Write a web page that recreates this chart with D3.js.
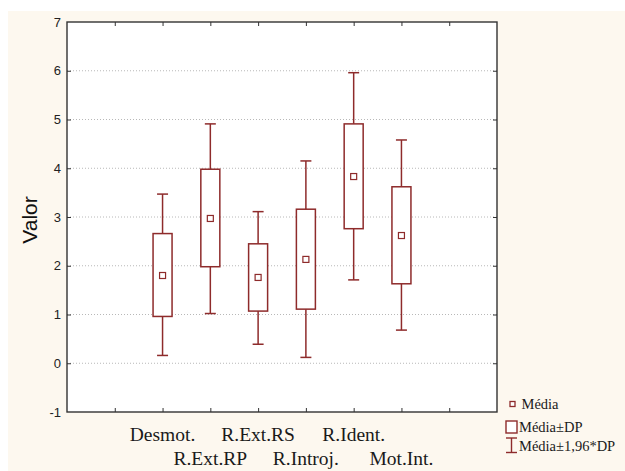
<!DOCTYPE html>
<html>
<head>
<meta charset="utf-8">
<script src="https://cdn.jsdelivr.net/npm/d3@7"></script>
<style>
  body { margin: 0; background: #fff; }
  svg { display: block; }
</style>
</head>
<body>
<div id="plot"></div>
<script>
// categories and values
const categorias = ["Desmot.", "R.Ext.RP", "R.Ext.RS", "R.Introj.", "R.Ident.", "Mot.Int."];
const media   = [1.80, 2.97, 1.76, 2.13, 3.83, 2.62];
const dpSup   = [2.66, 3.98, 2.45, 3.16, 4.91, 3.62];   // Média+DP
const dpInf   = [0.96, 1.98, 1.07, 1.11, 2.76, 1.63];   // Média-DP
const icSup   = [3.47, 4.91, 3.11, 4.15, 5.96, 4.58];   // Média+1,96*DP
const icInf   = [0.16, 1.02, 0.39, 0.12, 1.71, 0.68];   // Média-1,96*DP
const yTicks  = [-1, 0, 1, 2, 3, 4, 5, 6, 7];
const legendItems = ["Média", "Média±DP", "Média±1,96*DP"];

const W = 625, H = 471;
const cor = "#8e2b2b";

const svg = d3.select("#plot").append("svg")
  .attr("width", W)
  .attr("height", H);

// cream background
svg.append("rect")
  .attr("x", 8).attr("y", 11)
  .attr("width", W - 8).attr("height", H - 11)
  .attr("fill", "#fdf8ef");

const plotL = 67, plotR = 497, plotT = 22, plotB = 412;

// x positions: 0..7 are tick slots, categories sit on 1..6
const xScale = d3.scaleLinear().domain([-1, 8]).range([plotL, plotR]);
const yScale = d3.scaleLinear().domain([-1, 7]).range([plotB, plotT]);

// plot area
svg.append("rect")
  .attr("x", plotL).attr("y", plotT)
  .attr("width", plotR - plotL).attr("height", plotB - plotT)
  .attr("fill", "#fff");

// dotted grid
svg.append("g")
  .selectAll("line")
  .data(yTicks.filter(d => d > -1 && d < 7))
  .enter().append("line")
  .attr("x1", plotL).attr("x2", plotR)
  .attr("y1", d => yScale(d)).attr("y2", d => yScale(d))
  .attr("stroke", "#b8b8b8")
  .attr("stroke-width", 1)
  .attr("stroke-dasharray", "1,2");

// axes with inner ticks
const xTicks = d3.range(0, 8);
svg.append("g")
  .attr("transform", "translate(0," + plotB + ")")
  .call(d3.axisTop(xScale).tickValues(xTicks).tickSize(4).tickFormat(""))
  .call(g => g.select(".domain").remove());
svg.append("g")
  .attr("transform", "translate(0," + plotT + ")")
  .call(d3.axisBottom(xScale).tickValues(xTicks).tickSize(4).tickFormat(""))
  .call(g => g.select(".domain").remove());

svg.append("g")
  .attr("transform", "translate(" + plotL + ",0)")
  .call(d3.axisRight(yScale).tickValues(yTicks.slice(1, -1)).tickSize(4).tickFormat(""))
  .call(g => g.select(".domain").remove());
svg.append("g")
  .attr("transform", "translate(" + plotR + ",0)")
  .call(d3.axisLeft(yScale).tickValues(yTicks.slice(1, -1)).tickSize(4).tickFormat(""))
  .call(g => g.select(".domain").remove());

svg.selectAll(".tick line").attr("stroke", "#333");

// y tick labels
svg.append("g")
  .selectAll("text")
  .data(yTicks)
  .enter().append("text")
  .attr("x", 61)
  .attr("y", d => yScale(d))
  .attr("dy", "0.35em")
  .attr("text-anchor", "end")
  .attr("font-family", "Liberation Sans, Arial, sans-serif")
  .attr("font-size", 13)
  .attr("fill", "#222")
  .text(d => d);

// y axis title
svg.append("text")
  .attr("transform", "translate(37,220) rotate(-90)")
  .attr("text-anchor", "middle")
  .attr("font-family", "Liberation Sans, Arial, sans-serif")
  .attr("font-size", 21)
  .attr("fill", "#111")
  .text("Valor");

// frame
svg.append("rect")
  .attr("x", plotL).attr("y", plotT)
  .attr("width", plotR - plotL).attr("height", plotB - plotT)
  .attr("fill", "none")
  .attr("stroke", "#333")
  .attr("stroke-width", 1.4);

// category labels, staggered in two rows
svg.append("g")
  .selectAll("text")
  .data(categorias)
  .enter().append("text")
  .attr("x", (d, i) => xScale(i + 1))
  .attr("y", (d, i) => i % 2 === 0 ? 441 : 465)
  .attr("text-anchor", "middle")
  .attr("font-family", "Liberation Serif, Times New Roman, serif")
  .attr("font-size", 19.5)
  .attr("fill", "#1a1a1a")
  .text(d => d);

// boxes
const boxW = 19, capW = 11;
const g = svg.append("g")
  .attr("stroke", cor)
  .attr("stroke-width", 1.5)
  .attr("fill", "none");

categorias.forEach((c, i) => {
  const cx = xScale(i + 1);
  // whiskers
  g.append("line")
    .attr("x1", cx).attr("x2", cx)
    .attr("y1", yScale(icSup[i])).attr("y2", yScale(dpSup[i]));
  g.append("line")
    .attr("x1", cx).attr("x2", cx)
    .attr("y1", yScale(dpInf[i])).attr("y2", yScale(icInf[i]));
  g.append("line")
    .attr("x1", cx - capW / 2).attr("x2", cx + capW / 2)
    .attr("y1", yScale(icSup[i])).attr("y2", yScale(icSup[i]));
  g.append("line")
    .attr("x1", cx - capW / 2).attr("x2", cx + capW / 2)
    .attr("y1", yScale(icInf[i])).attr("y2", yScale(icInf[i]));
  // box
  g.append("rect")
    .attr("x", cx - boxW / 2)
    .attr("y", yScale(dpSup[i]))
    .attr("width", boxW)
    .attr("height", yScale(dpInf[i]) - yScale(dpSup[i]))
    .attr("fill", "#fff");
  // mean marker
  g.append("rect")
    .attr("x", cx - 3).attr("y", yScale(media[i]) - 3)
    .attr("width", 6).attr("height", 6)
    .attr("fill", "#fff")
    .attr("stroke-width", 1.2);
});

// legend
const lg = svg.append("g");
lg.append("rect")
  .attr("x", 510).attr("y", 401.5)
  .attr("width", 5).attr("height", 5)
  .attr("fill", "#fff").attr("stroke", cor).attr("stroke-width", 1.3);
lg.append("rect")
  .attr("x", 506).attr("y", 421)
  .attr("width", 11).attr("height", 12)
  .attr("fill", "#fff").attr("stroke", cor).attr("stroke-width", 1.4);
lg.append("line")
  .attr("x1", 511.5).attr("x2", 511.5).attr("y1", 438).attr("y2", 452.5)
  .attr("stroke", cor).attr("stroke-width", 1.4);
lg.append("line")
  .attr("x1", 506).attr("x2", 517).attr("y1", 438).attr("y2", 438)
  .attr("stroke", cor).attr("stroke-width", 1.4);
lg.append("line")
  .attr("x1", 506).attr("x2", 517).attr("y1", 452.5).attr("y2", 452.5)
  .attr("stroke", cor).attr("stroke-width", 1.4);

lg.selectAll("text")
  .data(legendItems)
  .enter().append("text")
  .attr("x", (d, i) => i === 0 ? 521.5 : 519)
  .attr("y", (d, i) => [408.5, 432, 451][i])
  .attr("font-family", "Liberation Serif, Times New Roman, serif")
  .attr("font-size", 14.5)
  .attr("fill", "#1a1a1a")
  .text(d => d);
</script>
</body>
</html>
